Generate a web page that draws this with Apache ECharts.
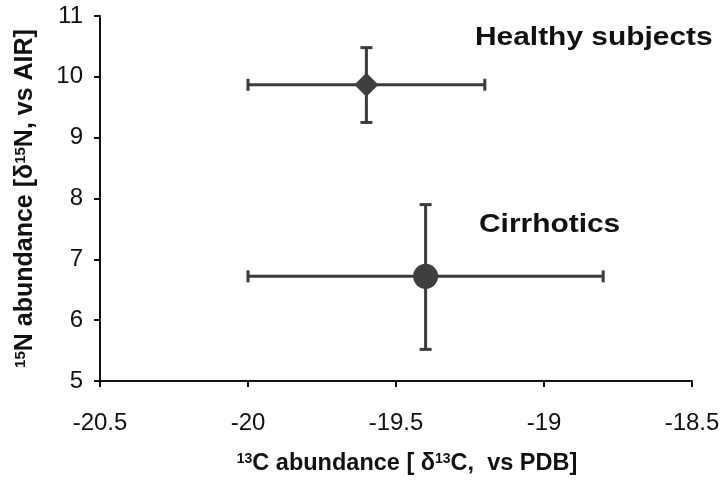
<!DOCTYPE html>
<html>
<head>
<meta charset="utf-8">
<script src="https://cdn.jsdelivr.net/npm/echarts@6/dist/echarts.min.js"></script>
<style>html,body{margin:0;padding:0;background:#fff}#c{width:727px;height:480px}</style>
</head>
<body>
<div id="c"></div>
<script>
// Data
var groups = ['Healthy subjects', 'Cirrhotics'];
var meanC13 = [-19.6, -19.4];
var meanN15 = [9.87, 6.72];
var c13Low = [-20.0, -20.0];
var c13High = [-19.2, -18.8];
var n15Low = [9.25, 5.52];
var n15High = [10.48, 7.9];
var markerShapes = ['diamond', 'circle'];
var xTicks = [-20.5, -20, -19.5, -19, -18.5];
var yTicks = [5, 6, 7, 8, 9, 10, 11];

var FONT = '"Liberation Sans", Arial, Helvetica, sans-serif';
var INK = '#3a3a3a';

var errData = groups.map(function (g, i) {
  return [meanC13[i], meanN15[i], c13Low[i], c13High[i], n15Low[i], n15High[i]];
});

function renderErr(params, api) {
  var c = api.coord([api.value(0), api.value(1)]);
  var xl = api.coord([api.value(2), api.value(1)]);
  var xh = api.coord([api.value(3), api.value(1)]);
  var yl = api.coord([api.value(0), api.value(4)]);
  var yh = api.coord([api.value(0), api.value(5)]);
  var cap = 6;
  var st = { stroke: INK, lineWidth: 3 };
  return {
    type: 'group',
    children: [
      { type: 'line', shape: { x1: xl[0], y1: c[1], x2: xh[0], y2: c[1] }, style: st },
      { type: 'line', shape: { x1: xl[0], y1: c[1] - cap, x2: xl[0], y2: c[1] + cap }, style: st },
      { type: 'line', shape: { x1: xh[0], y1: c[1] - cap, x2: xh[0], y2: c[1] + cap }, style: st },
      { type: 'line', shape: { x1: c[0], y1: yl[1], x2: c[0], y2: yh[1] }, style: st },
      { type: 'line', shape: { x1: c[0] - cap, y1: yl[1], x2: c[0] + cap, y2: yl[1] }, style: st },
      { type: 'line', shape: { x1: c[0] - cap, y1: yh[1], x2: c[0] + cap, y2: yh[1] }, style: st }
    ]
  };
}

var chart = echarts.init(document.getElementById('c'), null, { renderer: 'canvas' });
var option = {
  animation: false,
  backgroundColor: '#fff',
  textStyle: { fontFamily: FONT },
  grid: { left: 100, right: 35, top: 16, bottom: 99, containLabel: false, outerBoundsMode: 'none' },
  xAxis: {
    type: 'value', min: -20.5, max: -18.5, interval: 0.5,
    splitLine: { show: false },
    axisLine: { lineStyle: { color: '#111', width: 2 } },
    axisTick: { show: true, inside: false, length: 6, lineStyle: { color: '#111', width: 2 } },
    axisLabel: { color: '#111', fontSize: 24, fontFamily: FONT, margin: 30, formatter: function (v) { return String(v); } },
    name: '{sup|13}{b|C abundance [ δ}{sup|13}{b|C,  vs PDB]}',
    nameLocation: 'middle', nameGap: 71,
    nameTextStyle: {
      padding: [0, 0, 0, 22],
      rich: {
        b: { fontSize: 23.5, fontWeight: 'bold', color: '#111', fontFamily: FONT },
        sup: { fontSize: 14, fontWeight: 'bold', color: '#111', fontFamily: FONT, verticalAlign: 'top', padding: [0, 0, 9, 0] }
      }
    }
  },
  yAxis: {
    type: 'value', min: 5, max: 11, interval: 1,
    splitLine: { show: false },
    axisLine: { lineStyle: { color: '#111', width: 2 } },
    axisTick: { show: true, inside: false, length: 6, lineStyle: { color: '#111', width: 2 } },
    axisLabel: { color: '#111', fontSize: 24, fontFamily: FONT, margin: 17 },
    name: '{sup|15}{b|N abundance [δ}{sup|15}{b|N, vs AIR]}',
    nameLocation: 'middle', nameGap: 62, nameRotate: 90,
    nameTextStyle: {
      rich: {
        b: { fontSize: 25, fontWeight: 'bold', color: '#111', fontFamily: FONT },
        sup: { fontSize: 15, fontWeight: 'bold', color: '#111', fontFamily: FONT, verticalAlign: 'top', padding: [0, 0, 10, 0] }
      }
    }
  },
  series: [
    {
      type: 'custom',
      renderItem: renderErr,
      data: errData,
      z: 2
    },
    {
      type: 'scatter',
      z: 3,
      data: groups.map(function (g, i) {
        return { value: [meanC13[i], meanN15[i]], symbol: markerShapes[i], symbolSize: i === 0 ? 24 : 25 };
      }),
      itemStyle: { color: '#3f3f3f', opacity: 1 }
    }
  ],
  graphic: [
    { type: 'text', x: 475, y: 25, scaleX: 1.15, style: { text: groups[0], fill: '#111', font: 'bold 26px ' + FONT } },
    { type: 'text', x: 479, y: 212, scaleX: 1.15, style: { text: groups[1], fill: '#111', font: 'bold 26px ' + FONT } }
  ]
};
chart.setOption(option);
</script>
</body>
</html>
